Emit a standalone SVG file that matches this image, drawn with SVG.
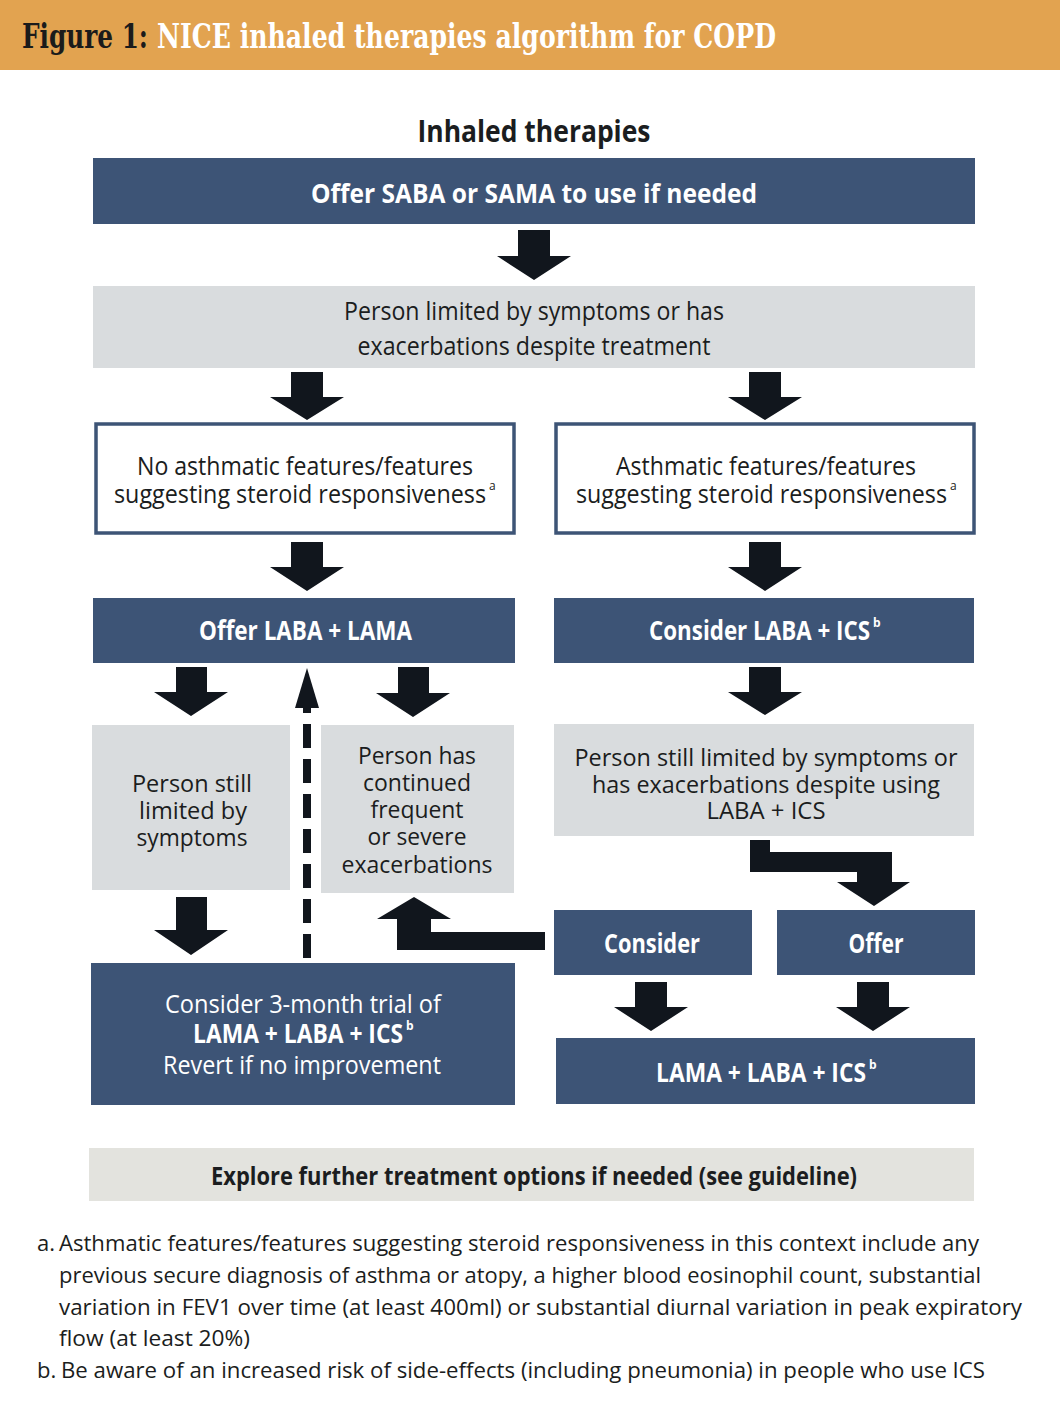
<svg xmlns="http://www.w3.org/2000/svg" width="1060" height="1414" viewBox="0 0 1060 1414">
<style>
.hdr{font-family:"DejaVu Serif","Liberation Serif",serif;font-weight:bold;font-size:33px}
.t{font-family:"Open Sans","Noto Sans","Liberation Sans",sans-serif;fill:#1b1d20}
.b{font-weight:bold}
.w{fill:#ffffff}
.m{text-anchor:middle}
.blue{fill:#3d5476}
.gray{fill:#d9dcde}
.arr{fill:#11161d}
.sup{font-family:"Open Sans","Noto Sans","Liberation Sans",sans-serif;font-size:12px}
</style>
<rect x="0" y="0" width="1060" height="1414" fill="#ffffff"/>
<g id="header">
<rect x="0" y="0" width="1060" height="70" fill="#e2a350"/>
<text class="hdr" x="22" y="48" fill="#1b1b1b" textLength="126" lengthAdjust="spacingAndGlyphs">Figure 1:</text>
<text class="hdr" x="157" y="48" fill="#ffffff" textLength="619" lengthAdjust="spacingAndGlyphs">NICE inhaled therapies algorithm for COPD</text>
</g>
<g id="title">
<text class="t b m" x="534" y="142" font-size="30" textLength="233" lengthAdjust="spacingAndGlyphs">Inhaled therapies</text>
</g>
<g id="n-saba">
<rect class="blue" x="93" y="158" width="882" height="66"/>
<text class="t b w m" x="534" y="203" font-size="27" textLength="446" lengthAdjust="spacingAndGlyphs">Offer SABA or SAMA to use if needed</text>
</g>
<g id="n-limited">
<rect class="gray" x="93" y="286" width="882" height="82"/>
<text class="t m" x="534" y="320" font-size="26" textLength="380" lengthAdjust="spacingAndGlyphs">Person limited by symptoms or has</text>
<text class="t m" x="534" y="355" font-size="26" textLength="353" lengthAdjust="spacingAndGlyphs">exacerbations despite treatment</text>
</g>
<g id="n-noasthma">
<rect x="96" y="424" width="418" height="109" fill="#ffffff" stroke="#3d5476" stroke-width="3.5"/>
<text class="t m" x="305" y="475" font-size="25" textLength="336" lengthAdjust="spacingAndGlyphs">No asthmatic features/features</text>
<text class="t" x="114" y="503" font-size="25" textLength="372" lengthAdjust="spacingAndGlyphs">suggesting steroid responsiveness</text>
<text class="sup" x="489" y="490" fill="#1b1d20">a</text>
</g>
<g id="n-asthma">
<rect x="556" y="424" width="418" height="109" fill="#ffffff" stroke="#3d5476" stroke-width="3.5"/>
<text class="t m" x="766" y="475" font-size="25" textLength="300" lengthAdjust="spacingAndGlyphs">Asthmatic features/features</text>
<text class="t" x="576" y="503" font-size="25" textLength="371" lengthAdjust="spacingAndGlyphs">suggesting steroid responsiveness</text>
<text class="sup" x="950" y="490" fill="#1b1d20">a</text>
</g>
<g id="n-laba-lama">
<rect class="blue" x="93" y="598" width="422" height="65"/>
<text class="t b w" x="199" y="640" font-size="26" textLength="213" lengthAdjust="spacingAndGlyphs">Offer LABA + LAMA</text>
</g>
<g id="n-laba-ics">
<rect class="blue" x="554" y="598" width="420" height="65"/>
<text class="t b w" x="649" y="640" font-size="26" textLength="221" lengthAdjust="spacingAndGlyphs">Consider LABA + ICS</text>
<text class="sup w b" x="873" y="627">b</text>
</g>
<g id="n-still-limited">
<rect class="gray" x="92" y="725" width="198" height="165"/>
<text class="t m" x="192" y="792" font-size="24" textLength="120" lengthAdjust="spacingAndGlyphs">Person still</text>
<text class="t m" x="193" y="819" font-size="24" textLength="108" lengthAdjust="spacingAndGlyphs">limited by</text>
<text class="t m" x="192" y="846" font-size="24" textLength="111" lengthAdjust="spacingAndGlyphs">symptoms</text>
</g>
<g id="n-exacerbations">
<rect class="gray" x="321" y="725" width="193" height="168"/>
<text class="t m" x="417" y="764" font-size="24" textLength="118" lengthAdjust="spacingAndGlyphs">Person has</text>
<text class="t m" x="417" y="791" font-size="24" textLength="108" lengthAdjust="spacingAndGlyphs">continued</text>
<text class="t m" x="417" y="818" font-size="24" textLength="93" lengthAdjust="spacingAndGlyphs">frequent</text>
<text class="t m" x="417" y="845" font-size="24" textLength="99" lengthAdjust="spacingAndGlyphs">or severe</text>
<text class="t m" x="417" y="873" font-size="24" textLength="151" lengthAdjust="spacingAndGlyphs">exacerbations</text>
</g>
<g id="n-still-limited-ics">
<rect class="gray" x="554" y="724" width="420" height="112"/>
<text class="t m" x="766" y="766" font-size="24" textLength="383" lengthAdjust="spacingAndGlyphs">Person still limited by symptoms or</text>
<text class="t m" x="766" y="793" font-size="24" textLength="348" lengthAdjust="spacingAndGlyphs">has exacerbations despite using</text>
<text class="t m" x="766" y="819" font-size="24" textLength="119" lengthAdjust="spacingAndGlyphs">LABA + ICS</text>
</g>
<g id="n-consider">
<rect class="blue" x="554" y="910" width="198" height="65"/>
<text class="t b w m" x="652" y="953" font-size="26" textLength="96" lengthAdjust="spacingAndGlyphs">Consider</text>
</g>
<g id="n-offer">
<rect class="blue" x="777" y="910" width="198" height="65"/>
<text class="t b w m" x="876" y="953" font-size="26" textLength="55" lengthAdjust="spacingAndGlyphs">Offer</text>
</g>
<g id="n-trial">
<rect class="blue" x="91" y="963" width="424" height="142"/>
<text class="t w m" x="303" y="1013" font-size="25" textLength="276" lengthAdjust="spacingAndGlyphs">Consider 3-month trial of</text>
<text class="t b w" x="193" y="1043" font-size="26" textLength="210" lengthAdjust="spacingAndGlyphs">LAMA + LABA + ICS</text>
<text class="sup w b" x="406" y="1030">b</text>
<text class="t w m" x="302" y="1074" font-size="25" textLength="278" lengthAdjust="spacingAndGlyphs">Revert if no improvement</text>
</g>
<g id="n-triple">
<rect class="blue" x="556" y="1038" width="419" height="66"/>
<text class="t b w" x="656" y="1082" font-size="26" textLength="210" lengthAdjust="spacingAndGlyphs">LAMA + LABA + ICS</text>
<text class="sup w b" x="869" y="1069">b</text>
</g>
<g id="n-explore">
<rect x="89" y="1148" width="885" height="53" fill="#e3e3de"/>
<text class="t b m" x="534" y="1185" font-size="25" textLength="646" lengthAdjust="spacingAndGlyphs">Explore further treatment options if needed (see guideline)</text>
</g>
<g id="connectors">
<polygon class="arr" points="518,230 550,230 550,256 571,256 534,280 497,256 518,256"/>
<polygon class="arr" points="291,372 323,372 323,397 344,397 307,420 270,397 291,397"/>
<polygon class="arr" points="749,372 781,372 781,397 802,397 765,420 728,397 749,397"/>
<polygon class="arr" points="291,542 323,542 323,567 344,567 307,591 270,567 291,567"/>
<polygon class="arr" points="749,542 781,542 781,567 802,567 765,591 728,567 749,567"/>
<polygon class="arr" points="176,667 207,667 207,692 228,692 191,716 154,692 176,692"/>
<polygon class="arr" points="398,667 429,667 429,693 450,693 413,717 376,693 398,693"/>
<polygon class="arr" points="749,667 781,667 781,692 802,692 765,715 728,692 749,692"/>
<polygon class="arr" points="176,897 207,897 207,930 228,930 191,955 154,930 176,930"/>
<polygon class="arr" points="635,982 667,982 667,1007 688,1007 651,1031 614,1007 635,1007"/>
<polygon class="arr" points="857,982 889,982 889,1007 910,1007 873,1031 836,1007 857,1007"/>
<polygon class="arr" points="545,932 431,932 431,919 451,919 414,897 377,919 397,919 397,950 545,950"/>
<polygon class="arr" points="750,840 770,840 770,852 892,852 892,882 910,882 874,906 837,882 857,882 857,872 750,872"/>
<line x1="307" y1="958" x2="307" y2="706" stroke="#11161d" stroke-width="8" stroke-dasharray="24 11"/>
<polygon class="arr" points="307,668 319,708 295,708"/>
</g>
<g id="footnotes">
<text class="t" x="37" y="1251" font-size="22">a.</text>
<text class="t" x="59" y="1251" font-size="22" textLength="920" lengthAdjust="spacingAndGlyphs">Asthmatic features/features suggesting steroid responsiveness in this context include any</text>
<text class="t" x="59" y="1283" font-size="22" textLength="922" lengthAdjust="spacingAndGlyphs">previous secure diagnosis of asthma or atopy, a higher blood eosinophil count, substantial</text>
<text class="t" x="59" y="1315" font-size="22" textLength="963" lengthAdjust="spacingAndGlyphs">variation in FEV1 over time (at least 400ml) or substantial diurnal variation in peak expiratory</text>
<text class="t" x="59" y="1346" font-size="22" textLength="191" lengthAdjust="spacingAndGlyphs">flow (at least 20%)</text>
<text class="t" x="37" y="1378" font-size="22">b.</text>
<text class="t" x="61" y="1378" font-size="22" textLength="924" lengthAdjust="spacingAndGlyphs">Be aware of an increased risk of side-effects (including pneumonia) in people who use ICS</text>
</g>
</svg>
